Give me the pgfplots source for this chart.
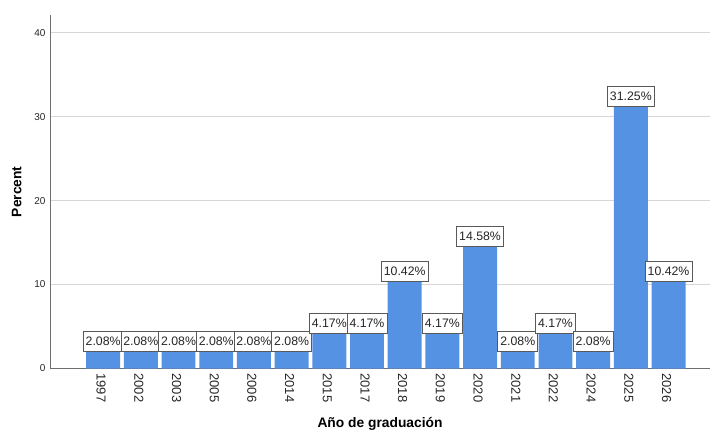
\documentclass[border=0pt]{standalone}
\usepackage{pgfplots}
\pgfplotsset{compat=1.18}
\usepackage{fontspec}
\setmainfont{Liberation Sans}
\definecolor{barblue}{RGB}{85,146,228}
\definecolor{gridgray}{RGB}{215,215,215}
\definecolor{spine}{RGB}{110,110,110}
\begin{document}
\begin{tikzpicture}
\begin{axis}[
  scale only axis,
  width=660bp, height=353.5bp,
  xmin=-1.41, xmax=16.1,
  ymin=0, ymax=42.1,
  axis lines*=left,
  axis line style={spine, line width=0.8pt},
  ymajorgrids,
  grid style={gridgray, line width=0.8pt},
  ytick={0,10,20,30,40},
  xtick={0,...,15},
  xticklabels={1997,2002,2003,2005,2006,2014,2015,2017,2018,2019,2020,2021,2022,2024,2025,2026},
  xticklabel style={rotate=-90, anchor=west, font=\fontsize{13bp}{15bp}\selectfont, text=black!85, xshift=1.5bp, yshift=-2bp},
  yticklabel style={font=\fontsize{10bp}{12bp}\selectfont, text=black!85, xshift=-1bp},
  major tick length=0pt,
  /pgf/number format/assume math mode=true,
  xlabel={\textbf{Año de graduación}},
  ylabel={\textbf{Percent}},
  label style={font=\fontsize{13.8bp}{16bp}\selectfont},
  xlabel style={yshift=-8bp},
  ylabel style={yshift=6bp},
  ybar, bar width=0.9,
  nodes near coords={\pgfmathprintnumber[fixed,fixed zerofill,precision=2]{\pgfplotspointmeta}\%},
  nodes near coords style={anchor=south, draw=black!65, fill=white, inner xsep=2.5bp, inner ysep=0bp,
    minimum height=20bp, yshift=-0.5bp,
    font=\fontsize{12.3bp}{14bp}\selectfont, text=black!85, line width=0.8pt},
]
\addplot[fill=barblue, draw=none] coordinates {
(0,2.08) (1,2.08) (2,2.08) (3,2.08) (4,2.08) (5,2.08) (6,4.17) (7,4.17)
(8,10.42) (9,4.17) (10,14.58) (11,2.08) (12,4.17) (13,2.08) (14,31.25) (15,10.42)};
\end{axis}
\pgfresetboundingbox
\path (current axis.south west) ++(-50bp,-63.5bp) rectangle ++(712bp,432bp);
\end{tikzpicture}
\end{document}
